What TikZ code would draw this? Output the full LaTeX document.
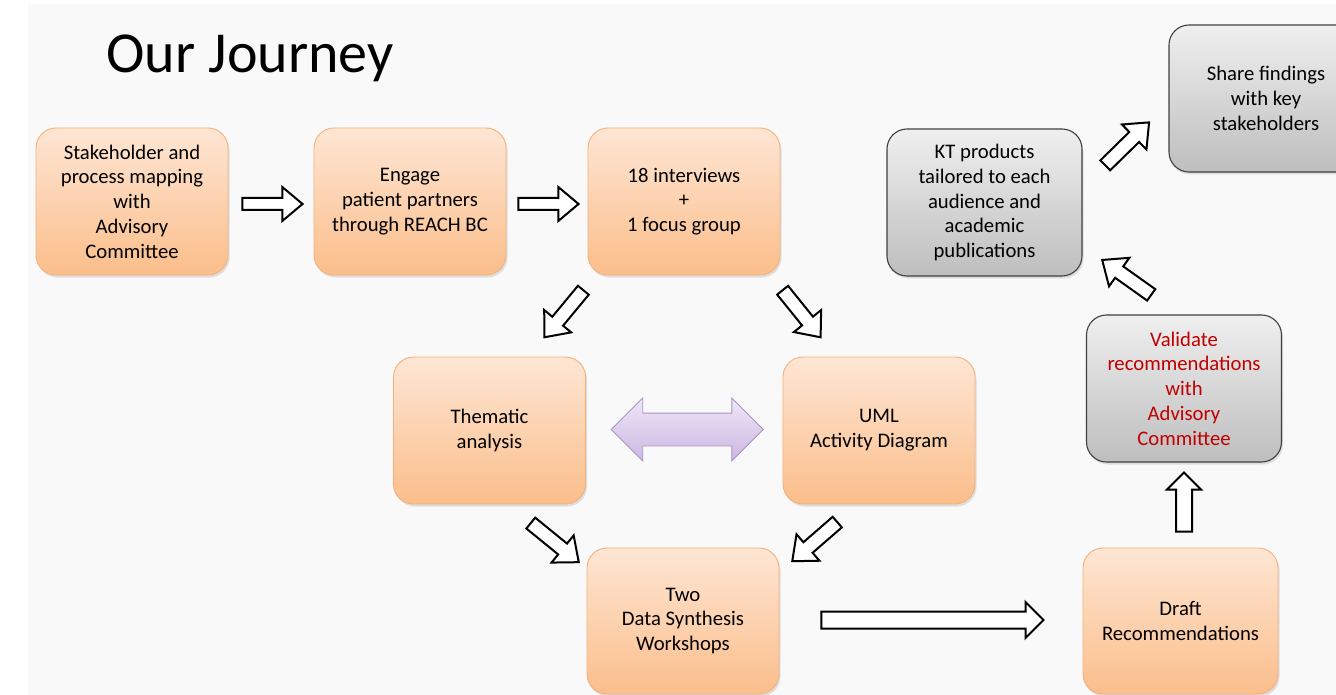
\documentclass[tikz,border=0pt]{standalone}
\usepackage{fontspec}
\setmainfont{Carlito}
\usetikzlibrary{calc,shapes.arrows,shadows}

\definecolor{pagebg}{HTML}{F9F9F9}
\definecolor{orangetop}{HTML}{FEE6D4}
\definecolor{orangebot}{HTML}{FBBE8B}
\definecolor{orangeline}{HTML}{F5B17C}
\definecolor{greytop}{HTML}{EFEFEF}
\definecolor{greybot}{HTML}{BEBEBE}
\definecolor{greyline}{HTML}{404040}
\definecolor{lilactop}{HTML}{EEE6F7}
\definecolor{lilacbot}{HTML}{CCB8E2}
\definecolor{lilacline}{HTML}{A994C6}
\definecolor{redtext}{HTML}{C00000}

\newcommand{\boxfont}{\fontsize{20.7}{24.8}\selectfont}

\tikzset{
  journeybox/.style={rounded corners=20pt, minimum width=192pt, minimum height=147pt,
    align=center, font=\boxfont, inner sep=2pt,
    drop shadow={opacity=0.22, shadow xshift=1.5pt, shadow yshift=-2.5pt}},
  orangebox/.style={journeybox, draw=orangeline, line width=0.9pt,
    top color=orangetop, bottom color=orangebot},
  greybox/.style={journeybox, draw=greyline, line width=1.1pt,
    top color=greytop, bottom color=greybot, minimum width=195pt},
  fatarr/.style={single arrow, draw=black, fill=white, line width=2pt,
    inner xsep=0pt, inner ysep=5pt, minimum width=1pt,
    single arrow head extend=11pt, single arrow tip angle=80,
    single arrow head indent=0pt},
  duoarrow/.style={double arrow, draw=lilacline, line width=0.9pt,
    top color=lilactop, bottom color=lilacbot,
    inner xsep=0pt, inner ysep=16pt, minimum width=1pt,
    double arrow head extend=15pt, double arrow tip angle=90,
    double arrow head indent=0pt}
}

% block arrow from tail #2 to tip #3
\newcommand{\fatarrow}[3][]{%
  \path let \p1=(#2), \p2=(#3),
    \n1={atan2(\y2-\y1,\x2-\x1)}, \n2={veclen(\x2-\x1,\y2-\y1)} in
    node[fatarr, #1, rotate=\n1, minimum height=\n2, anchor=tail] at (\p1) {};}

\begin{document}
\begin{tikzpicture}[x=1pt, y=-1pt]
  \useasboundingbox (0,0) rectangle (1336,695);
  \fill[white] (0,0) rectangle (1336,695);
  \fill[pagebg] (28,4) rectangle (1336,695);

  \node[anchor=base west, font=\fontsize{58}{70}\selectfont] (title) at (103,73) {Our Journey};

  % top row
  \node[orangebox] (stake) at (132,201.5) {Stakeholder and\\process mapping\\with\\Advisory\\Committee};
  \node[orangebox] (engage) at (410,201.5) {Engage\\patient partners\\through REACH BC};
  \node[orangebox] (inter) at (684,201.5) {18 interviews\\+\\1 focus group};

  % analysis
  \node[orangebox] (them) at (489.5,430.5) {Thematic\\analysis};
  \node[orangebox] (uml) at (879,430.5) {UML\\Activity Diagram};
  \node[orangebox, minimum height=146pt] (synth) at (683,621) {Two\\Data Synthesis\\Workshops};

  % right column
  \node[orangebox, minimum width=195pt, minimum height=146pt] (draft) at (1180.5,621) {Draft\\Recommendations};
  \node[greybox, text=redtext] (valid) at (1184,388.5) {Validate\\recommendations\\with\\Advisory\\Committee};
  \node[greybox] (kt) at (984.5,202.5) {KT products\\tailored to each\\audience and\\academic\\publications};
  \node[greybox, minimum width=194pt] (share) at (1266,98.5) {Share findings\\with key\\stakeholders};

  % arrows
  \fatarrow{$(stake.east)+(13,2.5)$}{$(engage.west)+(-12,2.5)$}
  \fatarrow{$(engage.east)+(11,2.5)$}{$(inter.west)+(-10,2.5)$}
  \fatarrow[inner ysep=6pt, single arrow head extend=10.5pt]{$(inter.south)+(-100,14)$}{$(them.north)+(55.5,-20)$}
  \fatarrow[inner ysep=6pt, single arrow head extend=10.5pt]{$(inter.south)+(98,14)$}{$(uml.north)+(-59,-20)$}
  \node[duoarrow, minimum height=152pt] (link) at ($(them.east)!0.5!(uml.west)+(3,-1)$) {};
  \fatarrow[inner ysep=6pt, single arrow head extend=10.5pt]{$(them.south)+(40.5,18)$}{$(synth.north)+(-105,14)$}
  \fatarrow[inner ysep=6pt, single arrow head extend=10.5pt]{$(uml.south)+(-41,17)$}{$(synth.north)+(110,13)$}
  \fatarrow[inner ysep=7.5pt, single arrow head extend=9.5pt, single arrow tip angle=90]{$(synth.east)+(41,-1)$}{$(draft.west)+(-40,-1)$}
  \fatarrow[inner ysep=7pt, single arrow head extend=9pt, single arrow tip angle=90]{$(draft.north)+(3.5,-15)$}{$(valid.south)+(0,11)$}
  \fatarrow[inner ysep=6pt, single arrow head extend=10.5pt]{$(valid.north)+(-32,-19)$}{$(kt.south)+(118.5,-16)$}
  \fatarrow[inner ysep=6pt, single arrow head extend=10.5pt]{$(kt.east)+(22,-36.5)$}{$(share.west)+(-20,24.5)$}
\end{tikzpicture}
\end{document}
